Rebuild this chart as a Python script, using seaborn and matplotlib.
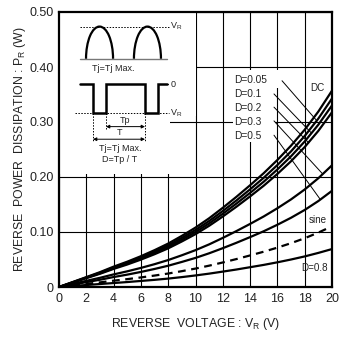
import numpy as np
import pandas as pd
import matplotlib
matplotlib.use("Agg")
import matplotlib.pyplot as plt
import seaborn as sns
from matplotlib.patches import Rectangle, Arc

# ---------------- data ----------------
voltage = list(range(21))
p_dc   = [0, .009, .018, .027, .037, .046, .056, .067, .079, .093, .108, .125, .144, .164, .185, .207, .231, .257, .286, .319, .357]
p_d005 = [0, .0086, .0173, .0259, .0355, .0442, .0538, .0643, .0758, .0893, .1037, .12, .1382, .1574, .1776, .1987, .2218, .2467, .2746, .3062, .3427]
p_d01  = [0, .0083, .0167, .025, .0342, .0426, .0518, .062, .0731, .086, .0999, .1156, .1332, .1517, .1711, .1915, .2137, .2377, .2646, .2951, .3302]
p_d02  = [0, .008, .016, .024, .0329, .0409, .0498, .0596, .0703, .0828, .0961, .1113, .1282, .146, .1647, .1842, .2056, .2287, .2545, .2839, .3177]
p_d03  = [0, .0056, .0112, .0167, .0229, .0285, .0347, .0415, .049, .0577, .067, .0775, .0893, .1017, .1147, .1283, .1432, .1593, .1773, .1978, .2213]
p_d05  = [0, .0044, .0088, .0132, .0181, .0225, .0274, .0328, .0387, .0456, .0529, .0613, .0706, .0804, .0907, .1014, .1132, .1259, .1401, .1563, .1749]
p_d08  = [0, .0018, .0036, .0054, .0072, .009, .011, .013, .0153, .018, .021, .0243, .028, .0318, .036, .0402, .0449, .05, .0556, .062, .069]
sine_voltage = list(range(20)) + [19.7]
p_sine = [0, .0028, .0056, .0084, .0115, .0143, .0174, .0208, .0245, .0288, .0335, .0388, .0446, .0508, .0574, .0642, .0716, .0797, .0887, .0989, .107]

solid_series = {"DC": p_dc, "D=0.05": p_d005, "D=0.1": p_d01, "D=0.2": p_d02,
                "D=0.3": p_d03, "D=0.5": p_d05, "D=0.8": p_d08}
x_ticks = [0, 2, 4, 6, 8, 10, 12, 14, 16, 18, 20]
x_tick_labels = ["0", "2", "4", "6", "8", "10", "12", "14", "16", "18", "20"]
y_ticks = [0, 0.1, 0.2, 0.3, 0.4, 0.5]
y_tick_labels = ["0", "0.10", "0.20", "0.30", "0.40", "0.50"]
d_labels = ["D=0.05", "D=0.1", "D=0.2", "D=0.3", "D=0.5"]

rows = []
for name, vals in solid_series.items():
    for v, p in zip(voltage, vals):
        rows.append((name, v, p))
df_solid = pd.DataFrame(rows, columns=["series", "V", "P"])
df_sine = pd.DataFrame({"series": "sine", "V": sine_voltage, "P": p_sine})

# ---------------- style ----------------
sns.set_style("white")
plt.rcParams["font.family"] = ["Liberation Sans", "DejaVu Sans"]
plt.rcParams["mathtext.fontset"] = "custom"
plt.rcParams["mathtext.rm"] = "Liberation Sans"

fig = plt.figure(figsize=(3.39, 3.39), dpi=100)
ax = fig.add_axes([59/339, 1-287/339, (332-59)/339, (287-12)/339])

ax.set_xlim(0, 20)
ax.set_ylim(0, 0.5)
ax.set_xticks(x_ticks)
ax.set_xticklabels(x_tick_labels)
ax.set_yticks(y_ticks)
ax.set_yticklabels(y_tick_labels)
ax.tick_params(length=0, labelsize=9, colors="#222222", pad=4)
ax.grid(True, color="black", lw=0.8)
ax.set_axisbelow(True)
for s in ax.spines.values():
    s.set_linewidth(1.6)
    s.set_color("black")
    s.set_zorder(6)

# white areas covering the grid (inset + labels)
ax.add_patch(Rectangle((0, 0.31), 10, 0.19, facecolor="white", edgecolor="none", zorder=1))
ax.add_patch(Rectangle((0, 0.205), 8.1, 0.11, facecolor="white", edgecolor="none", zorder=1))
ax.add_patch(Rectangle((12.75, 0.263), 3.1, 0.131, facecolor="white", edgecolor="none", zorder=1))
ax.add_patch(Rectangle((12.75, 0.362), 3.55, 0.032, facecolor="white", edgecolor="none", zorder=1))

# curves
sns.lineplot(data=df_solid, x="V", y="P", units="series", estimator=None,
             color="black", lw=1.6, ax=ax, legend=False, zorder=4)
sns.lineplot(data=df_sine, x="V", y="P", color="black", lw=1.6, ax=ax,
             legend=False, zorder=4, linestyle=(0, (3.5, 2.5)))

ax.set_xlabel("REVERSE  VOLTAGE : V$_\\mathregular{R}$ (V)", fontsize=8.8, labelpad=8, color="#222222")
ax.set_ylabel("REVERSE  POWER  DISSIPATION : P$_\\mathregular{R}$ (W)", fontsize=8.8, labelpad=1, color="#222222")

# D labels with leader lines
label_y = [0.376, 0.351, 0.325, 0.300, 0.275]
for lab, yy in zip(d_labels, label_y):
    ax.text(12.85, yy, lab, fontsize=7.3, va="center", ha="left", zorder=5, color="#222222")
leaders = [((16.34, 0.375), (18.9, 0.302)),
           ((15.75, 0.351), (18.49, 0.28)),
           ((15.75, 0.327), (18.3, 0.262)),
           ((15.75, 0.302), (19.3, 0.206)),
           ((15.75, 0.276), (19.12, 0.16))]
for (x0, y0), (x1, y1) in leaders:
    ax.plot([x0, x1], [y0, y1], color="black", lw=0.7, zorder=3)
ax.text(18.9, 0.362, "DC", fontsize=7.1, ha="center", va="center", color="#222222", zorder=5)
ax.text(18.97, 0.122, "sine", fontsize=7.1, ha="center", va="center", color="#222222", zorder=5)
ax.text(18.75, 0.035, "D=0.8", fontsize=7.1, ha="center", va="center", color="#222222", zorder=5)

# ---------------- inset schematic ----------------
ins = dict(color="black", zorder=5)
ax.plot([1.54, 7.91], [0.415, 0.415], color="#777777", lw=1.0, zorder=5)
ax.plot([1.54, 8.05], [0.4735, 0.4735], color="black", lw=0.7, ls=(0, (1.5, 1.5)), zorder=5)
for cx in (2.97, 6.48):
    ax.add_patch(Arc((cx, 0.415), 1.98, 2 * 0.0585, theta1=0, theta2=180, lw=1.6, **ins))
ax.text(3.96, 0.397, "Tj=Tj Max.", fontsize=6.5, ha="center", va="center", color="#222222", zorder=5)
ax.text(8.13, 0.4735, "V$_\\mathregular{R}$", fontsize=6.5, ha="left", va="center", color="#222222", zorder=5)
sq_x = [1.54, 2.49, 2.49, 3.44, 3.44, 6.30, 6.30, 7.25, 7.25, 7.91]
sq_y = [0.369, 0.369, 0.316, 0.316, 0.369, 0.369, 0.316, 0.316, 0.369, 0.369]
ax.plot(sq_x, sq_y, lw=1.8, solid_joinstyle="miter", **ins)
ax.plot([7.91, 8.05], [0.369, 0.369], color="black", lw=0.7, ls=(0, (1.5, 1.5)), zorder=5)
ax.plot([1.2, 8.05], [0.316, 0.316], color="black", lw=0.7, ls=(0, (1.5, 1.5)), zorder=5)
ax.text(8.2, 0.369, "0", fontsize=6.5, ha="left", va="center", color="#222222", zorder=5)
ax.text(8.13, 0.316, "V$_\\mathregular{R}$", fontsize=6.5, ha="left", va="center", color="#222222", zorder=5)
for xv, ylo in ((2.49, 0.263), (3.44, 0.288), (6.30, 0.263)):
    ax.plot([xv, xv], [0.316, ylo], color="black", lw=0.7, ls=(0, (1.5, 1.5)), zorder=5)
ax.annotate("", xy=(6.30, 0.2916), xytext=(3.44, 0.2916),
            arrowprops=dict(arrowstyle="<|-|>", lw=0.7, color="black", mutation_scale=5, shrinkA=0, shrinkB=0), zorder=5)
ax.annotate("", xy=(6.30, 0.2687), xytext=(2.49, 0.2687),
            arrowprops=dict(arrowstyle="<|-|>", lw=0.7, color="black", mutation_scale=5, shrinkA=0, shrinkB=0), zorder=5)
ax.text(4.85, 0.303, "Tp", fontsize=6.5, ha="center", va="center", color="#222222", zorder=5)
ax.text(4.4, 0.2815, "T", fontsize=6.5, ha="center", va="center", color="#222222", zorder=5)
ax.text(4.47, 0.2523, "Tj=Tj Max.", fontsize=6.5, ha="center", va="center", color="#222222", zorder=5)
ax.text(4.47, 0.232, "D=Tp / T", fontsize=6.5, ha="center", va="center", color="#222222", zorder=5)

fig.savefig("out.png", dpi=100)
